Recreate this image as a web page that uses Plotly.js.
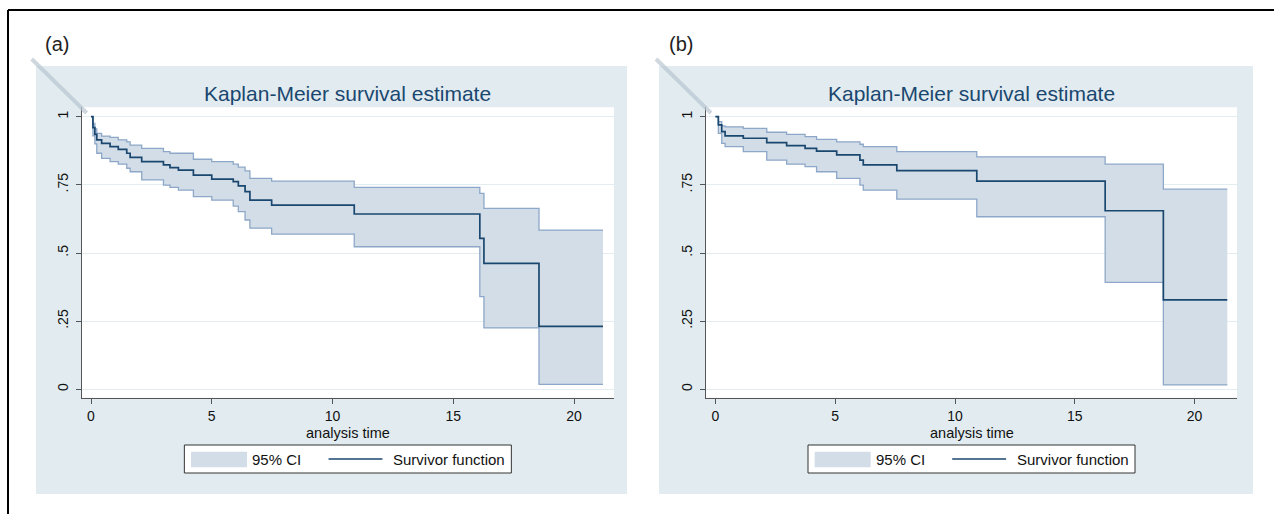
<!DOCTYPE html>
<html>
<head>
<meta charset="utf-8">
<script src="https://cdn.plot.ly/plotly-3.0.1.min.js"></script>
<style>html,body{margin:0;padding:0;background:#fff;}#chart{width:1274px;height:514px;}</style>
</head>
<body>
<div id="chart"></div>
<script>
// ---------- DATA ----------
const xTicks = [0, 5, 10, 15, 20];
const xTickText = ['0', '5', '10', '15', '20'];
const yTicks = [0, 0.25, 0.5, 0.75, 1];
const yTickText = ['0', '.25', '.5', '.75', '1'];

// Panel (a)
const timeA  = [0,0.08,0.16,0.24,0.44,0.79,1.13,1.48,1.62,2.10,3.00,3.27,3.62,4.24,5.00,5.89,6.10,6.38,6.58,7.48,10.9,16.1,16.27,18.55,21.2];
const survA  = [1,0.96,0.935,0.915,0.902,0.890,0.880,0.866,0.851,0.835,0.823,0.813,0.804,0.786,0.771,0.762,0.746,0.725,0.694,0.676,0.643,0.554,0.462,0.231,0.231];
const upperA = [1,0.975,0.955,0.939,0.929,0.924,0.915,0.908,0.896,0.884,0.872,0.866,0.866,0.844,0.835,0.826,0.815,0.801,0.774,0.764,0.741,0.719,0.664,0.584,0.584];
const lowerA = [1,0.93,0.90,0.866,0.847,0.835,0.826,0.811,0.798,0.768,0.749,0.741,0.731,0.707,0.694,0.672,0.652,0.621,0.591,0.569,0.523,0.340,0.225,0.018,0.018];

// Panel (b)
const timeB  = [0,0.12,0.26,0.40,1.16,2.14,2.97,3.74,4.22,5.06,6.03,6.17,7.57,10.91,16.27,18.7,21.37];
const survB  = [1,0.970,0.945,0.930,0.921,0.905,0.894,0.884,0.874,0.860,0.841,0.823,0.802,0.764,0.655,0.328,0.328];
const upperB = [1,0.982,0.966,0.963,0.957,0.943,0.935,0.927,0.917,0.908,0.899,0.890,0.872,0.853,0.826,0.734,0.734];
const lowerB = [1,0.939,0.902,0.890,0.872,0.841,0.826,0.817,0.798,0.774,0.749,0.731,0.698,0.633,0.392,0.016,0.016];

const panelLabels = ['(a)', '(b)'];
const titleText = 'Kaplan-Meier survival estimate';
const xTitle = 'analysis time';
const legendCI = '95% CI';
const legendSurv = 'Survivor function';

// ---------- STYLE / LAYOUT ----------
const W = 1274, H = 514;
const px = x => x / W;
const py = y => 1 - y / H;
const FONT = 'Liberation Sans, Arial, Helvetica, sans-serif';
const NAVY = '#1a476f';
const CI_FILL = '#d3dde7';
const CI_EDGE = '#8ca7c8';
const PANEL_BG = '#e2ecf0';
const GRID = '#e3ecf0';
const AXIS = '#555555';

const panels = [
  {t: timeA, s: survA, u: upperA, l: lowerA, xa: 'x', ya: 'y',
   plotX: [81.7, 614], range: [-0.385, 21.656], bg: [36, 627], label: 43},
  {t: timeB, s: survB, u: upperB, l: lowerB, xa: 'x2', ya: 'y2',
   plotX: [706, 1237], range: [-0.397, 21.775], bg: [659, 1253], label: 667}
];
const plotY = [107.3, 397.7];
const yRange = [-0.0308, 1.0345];

const traces = [];
const shapes = [];
const annotations = [];
const layout = {
  width: W, height: H,
  margin: {l: 0, r: 0, t: 0, b: 0},
  paper_bgcolor: '#ffffff',
  plot_bgcolor: '#ffffff',
  showlegend: false,
  font: {family: FONT, color: '#111'}
};

panels.forEach((p, i) => {
  const sfx = i === 0 ? '' : '2';
  traces.push({x: p.t, y: p.u, xaxis: p.xa, yaxis: p.ya, type: 'scatter', mode: 'lines',
    line: {shape: 'hv', color: CI_EDGE, width: 1.3}, hoverinfo: 'skip'});
  traces.push({x: p.t, y: p.l, xaxis: p.xa, yaxis: p.ya, type: 'scatter', mode: 'lines',
    fill: 'tonexty', fillcolor: CI_FILL,
    line: {shape: 'hv', color: CI_EDGE, width: 1.3}, hoverinfo: 'skip'});
  traces.push({x: p.t, y: p.s, xaxis: p.xa, yaxis: p.ya, type: 'scatter', mode: 'lines',
    line: {shape: 'hv', color: NAVY, width: 1.7}, hoverinfo: 'skip'});

  layout['xaxis' + sfx] = {
    domain: [px(p.plotX[0]), px(p.plotX[1])], range: p.range, anchor: 'y' + sfx,
    tickmode: 'array', tickvals: xTicks, ticktext: xTickText,
    ticks: 'outside', ticklen: 5, tickcolor: AXIS, tickwidth: 1,
    showline: true, linecolor: AXIS, linewidth: 1.2,
    showgrid: false, zeroline: false, fixedrange: true,
    tickfont: {family: FONT, size: 14, color: '#111'}, ticklabelstandoff: 0
  };
  layout['yaxis' + sfx] = {
    domain: [py(plotY[1]), py(plotY[0])], range: yRange, anchor: 'x' + sfx,
    tickmode: 'array', tickvals: yTicks, ticktext: yTickText, tickangle: -90,
    ticks: 'outside', ticklen: 5, tickcolor: AXIS, tickwidth: 1,
    showline: true, linecolor: AXIS, linewidth: 1.2,
    showgrid: true, gridcolor: GRID, gridwidth: 1, zeroline: false, fixedrange: true,
    tickfont: {family: FONT, size: 14, color: '#111'}, ticklabelstandoff: 2
  };

  // graph region background
  shapes.push({type: 'rect', xref: 'paper', yref: 'paper', layer: 'below',
    x0: px(p.bg[0]), x1: px(p.bg[1]), y0: py(494), y1: py(66),
    fillcolor: PANEL_BG, line: {width: 0}});
  // white plot region
  shapes.push({type: 'rect', xref: p.xa + ' domain', yref: p.ya + ' domain', layer: 'below',
    x0: 0, x1: 1, y0: 0, y1: 1, fillcolor: '#ffffff', line: {width: 0}});
  // corner bevel
  shapes.push({type: 'line', xref: 'paper', yref: 'paper', layer: 'above',
    x0: px(p.plotX[0] - 50), y0: py(59), x1: px(p.plotX[0] + 5), y1: py(113),
    line: {color: 'rgba(185,198,208,0.7)', width: 4}});

  const cx = (p.plotX[0] + p.plotX[1]) / 2;
  // legend box
  const bx0 = cx - 163.5, bx1 = cx + 163.5;
  shapes.push({type: 'rect', xref: 'paper', yref: 'paper', layer: 'above',
    x0: px(bx0), x1: px(bx1), y0: py(473), y1: py(445),
    fillcolor: '#ffffff', line: {color: '#333333', width: 1}});
  shapes.push({type: 'rect', xref: 'paper', yref: 'paper', layer: 'above',
    x0: px(bx0 + 6.7), x1: px(bx0 + 62.7), y0: py(467.2), y1: py(451.7),
    fillcolor: CI_FILL, line: {width: 0}});
  shapes.push({type: 'line', xref: 'paper', yref: 'paper', layer: 'above',
    x0: px(bx0 + 144.2), x1: px(bx0 + 198.1), y0: py(459), y1: py(459),
    line: {color: NAVY, width: 1.6}});
  annotations.push({xref: 'paper', yref: 'paper', x: px(bx0 + 66), y: py(459.5),
    xanchor: 'left', yanchor: 'middle', showarrow: false, text: legendCI,
    font: {family: FONT, size: 15, color: '#111'}});
  annotations.push({xref: 'paper', yref: 'paper', x: px(bx0 + 207), y: py(459.5),
    xanchor: 'left', yanchor: 'middle', showarrow: false, text: legendSurv,
    font: {family: FONT, size: 15, color: '#111'}});

  // titles
  annotations.push({xref: 'paper', yref: 'paper', x: px(cx), y: py(93),
    xanchor: 'center', yanchor: 'middle', showarrow: false, text: titleText,
    font: {family: FONT, size: 21, color: NAVY}});
  annotations.push({xref: 'paper', yref: 'paper', x: px(cx), y: py(433),
    xanchor: 'center', yanchor: 'middle', showarrow: false, text: xTitle,
    font: {family: FONT, size: 14.5, color: '#111'}});
  annotations.push({xref: 'paper', yref: 'paper', x: px(p.label), y: py(44),
    xanchor: 'left', yanchor: 'middle', showarrow: false, text: panelLabels[i],
    font: {family: FONT, size: 20, color: '#222'}});
});

// outer frame (top and left edges visible)
shapes.push({type: 'line', xref: 'paper', yref: 'paper', layer: 'above',
  x0: px(8), x1: 1, y0: py(10), y1: py(10), line: {color: '#000', width: 2}});
shapes.push({type: 'line', xref: 'paper', yref: 'paper', layer: 'above',
  x0: px(8), x1: px(8), y0: py(10), y1: 0, line: {color: '#000', width: 2}});

layout.shapes = shapes;
layout.annotations = annotations;

Plotly.newPlot('chart', traces, layout, {staticPlot: true, displayModeBar: false});
</script>
</body>
</html>
